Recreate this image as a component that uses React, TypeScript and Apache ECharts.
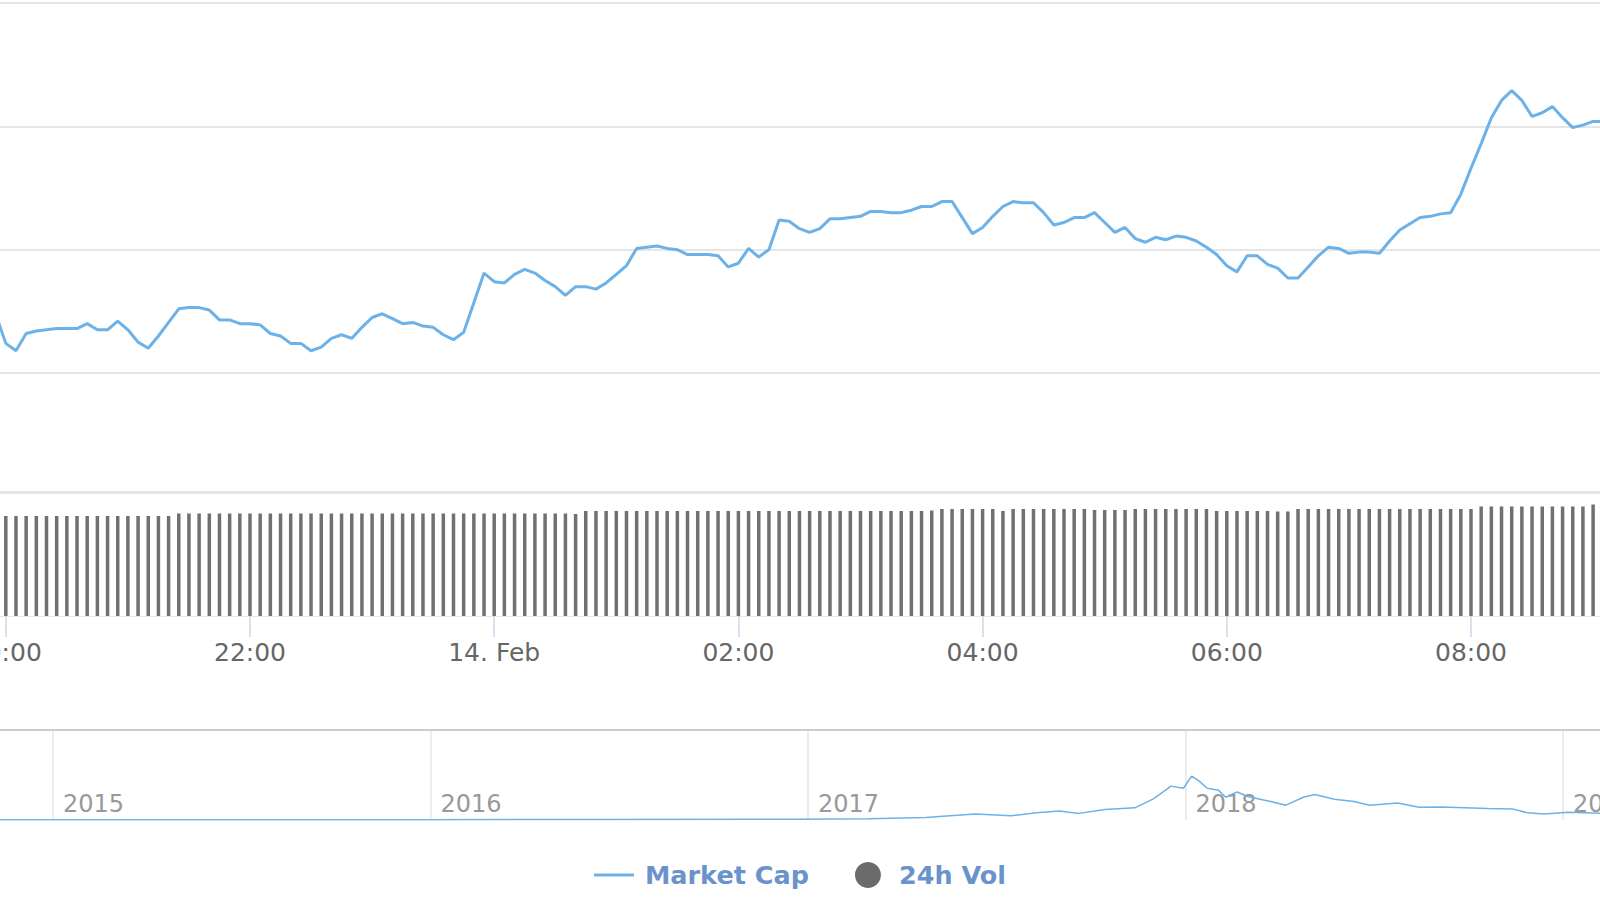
import React, { useEffect, useRef } from "react";
import * as echarts from "echarts";

// ---- Main chart data (5-minute samples starting 13 Feb 2019 19:55 UTC) ----
const START_UTC = Date.UTC(2019, 1, 13, 19, 55);
const STEP_MINUTES = 5;

// Market cap, billions USD
const MARKET_CAP_B = [
  118.48, 118.24, 118.18, 118.32, 118.34, 118.35, 118.36, 118.36, 118.36, 118.40,
  118.35, 118.35, 118.42, 118.35, 118.25, 118.20, 118.30, 118.41, 118.52, 118.53,
  118.53, 118.51, 118.43, 118.43, 118.40, 118.40, 118.39, 118.32, 118.30, 118.24,
  118.24, 118.18, 118.21, 118.28, 118.31, 118.28, 118.37, 118.45, 118.48, 118.44,
  118.40, 118.41, 118.38, 118.37, 118.31, 118.27, 118.33, 118.57, 118.81, 118.74,
  118.73, 118.80, 118.84, 118.81, 118.75, 118.70, 118.63, 118.70, 118.70, 118.68,
  118.73, 118.80, 118.87, 119.01, 119.02, 119.03, 119.01, 119.00, 118.96, 118.96,
  118.96, 118.95, 118.86, 118.89, 119.01, 118.94, 119.00, 119.24, 119.23, 119.17,
  119.14, 119.17, 119.25, 119.25, 119.26, 119.27, 119.31, 119.31, 119.30, 119.30,
  119.32, 119.35, 119.35, 119.39, 119.39, 119.26, 119.13, 119.18, 119.27, 119.35,
  119.39, 119.38, 119.38, 119.30, 119.20, 119.22, 119.26, 119.26, 119.30, 119.22,
  119.14, 119.18, 119.09, 119.06, 119.10, 119.08, 119.11, 119.10, 119.07, 119.02,
  118.96, 118.87, 118.82, 118.95, 118.95, 118.88, 118.85, 118.77, 118.77, 118.86,
  118.95, 119.02, 119.01, 118.97, 118.98, 118.98, 118.97, 119.07, 119.16, 119.21,
  119.26, 119.27, 119.29, 119.30, 119.45, 119.66, 119.86, 120.07, 120.21, 120.29,
  120.21, 120.08, 120.11, 120.16, 120.07, 119.99, 120.01, 120.04, 120.04,
];

// 24h volume, billions USD
const VOLUME_24H_B = [
  20.16, 20.16, 20.16, 20.16, 20.16, 20.16, 20.16, 20.16, 20.16, 20.16,
  20.16, 20.16, 20.16, 20.16, 20.16, 20.16, 20.16, 20.16, 20.67, 20.67,
  20.67, 20.67, 20.67, 20.67, 20.67, 20.67, 20.67, 20.67, 20.67, 20.67,
  20.67, 20.67, 20.67, 20.67, 20.67, 20.67, 20.67, 20.67, 20.67, 20.67,
  20.67, 20.67, 20.67, 20.67, 20.67, 20.67, 20.67, 20.67, 20.67, 20.67,
  20.67, 20.67, 20.67, 20.67, 20.67, 20.67, 20.67, 20.56, 21.17, 21.17,
  21.17, 21.17, 21.17, 21.17, 21.17, 21.17, 21.17, 21.17, 21.17, 21.17,
  21.17, 21.17, 21.17, 21.17, 21.17, 21.17, 21.17, 21.17, 21.17, 21.17,
  21.17, 21.17, 21.17, 21.17, 21.17, 21.17, 21.17, 21.17, 21.17, 21.17,
  21.17, 21.17, 21.27, 21.57, 21.57, 21.57, 21.57, 21.57, 21.57, 21.17,
  21.57, 21.57, 21.57, 21.57, 21.57, 21.57, 21.57, 21.57, 21.37, 21.37,
  21.37, 21.37, 21.57, 21.57, 21.57, 21.57, 21.57, 21.57, 21.57, 21.57,
  21.17, 21.17, 21.17, 21.17, 21.17, 21.17, 21.07, 21.07, 21.57, 21.57,
  21.57, 21.57, 21.57, 21.57, 21.57, 21.57, 21.57, 21.57, 21.57, 21.57,
  21.57, 21.57, 21.57, 21.57, 21.57, 21.57, 22.08, 22.08, 22.08, 22.08,
  22.08, 22.08, 22.08, 22.08, 22.08, 22.08, 22.08, 22.48, 22.48,
];

// ---- Navigator (all-time market cap, billions USD) ----
const NAV_DATES = [
  "2014-11-01", "2015-01-01", "2015-04-01", "2015-08-01", "2016-01-01", "2016-06-15",
  "2016-12-20", "2017-03-01", "2017-04-25", "2017-05-15", "2017-06-12", "2017-07-16",
  "2017-08-10", "2017-09-01", "2017-09-20", "2017-10-15", "2017-11-13", "2017-12-01",
  "2017-12-18", "2017-12-30", "2018-01-07", "2018-01-14", "2018-01-22", "2018-02-02",
  "2018-02-09", "2018-02-20", "2018-03-03", "2018-03-22", "2018-04-08", "2018-04-25",
  "2018-05-06", "2018-05-25", "2018-06-13", "2018-06-28", "2018-07-25", "2018-08-15",
  "2018-09-05", "2018-09-28", "2018-10-20", "2018-11-13", "2018-11-28", "2018-12-14",
  "2019-01-06", "2019-02-14",
];
const NAV_CAP_B = [
  6, 5, 4, 4, 7, 10, 14, 22, 45, 76, 115, 80, 135, 170, 125, 200, 230, 400, 640, 600,
  830, 740, 600, 560, 430, 530, 440, 360, 280, 430, 480, 390, 350, 280, 320, 240, 245,
  230, 215, 210, 135, 115, 145, 125,
];

const MONTHS = ["Jan", "Feb", "Mar", "Apr", "May", "Jun", "Jul", "Aug", "Sep", "Oct", "Nov", "Dec"];
const LEGEND_NAMES = ["Market Cap", "24h Vol"];

// axis extents
const X_MIN = Date.UTC(2019, 1, 13, 18);
const X_MAX = Date.UTC(2019, 1, 14, 10);
const TWO_HOURS = 2 * 3600 * 1000;

const LINE_COLOR = "#6cb2e8";
const BAR_COLOR = "#707070";
const FONT = "DejaVu Sans";

function toDecimalYear(s: string): number {
  const [y, m, d] = s.split("-").map(Number);
  const t = Date.UTC(y, m - 1, d);
  const a = Date.UTC(y, 0, 1);
  const b = Date.UTC(y + 1, 0, 1);
  return y + (t - a) / (b - a);
}

function fmtTime(v: number): string {
  const d = new Date(v);
  const h = d.getUTCHours();
  if (h === 0 && d.getUTCMinutes() === 0) {
    return `${d.getUTCDate()}. ${MONTHS[d.getUTCMonth()]}`;
  }
  return `${String(h).padStart(2, "0")}:${String(d.getUTCMinutes()).padStart(2, "0")}`;
}

export default function App() {
  const ref = useRef<HTMLDivElement>(null);

  useEffect(() => {
    const el = ref.current;
    if (!el) return;
    const chart = echarts.init(el, null, { renderer: "svg" });

    const times = MARKET_CAP_B.map((_, i) => START_UTC + i * STEP_MINUTES * 60000);
    const capData = MARKET_CAP_B.map((v, i) => [times[i], v]);
    const volData = VOLUME_24H_B.map((v, i) => [times[i], v]);
    const navData = NAV_DATES.map((d, i) => [toDecimalYear(d), NAV_CAP_B[i]]);

    const mainLeft = -238.4;
    const mainWidth = 1953.6;

    const option: any = {
      animation: false,
      backgroundColor: "#ffffff",
      textStyle: { fontFamily: FONT },
      legend: {
        show: true,
        data: [
          { name: LEGEND_NAMES[0], icon: "path://M0,0H40V3H0Z", itemStyle: { color: LINE_COLOR } },
          { name: LEGEND_NAMES[1], icon: "circle", itemStyle: { color: "#6b6b6b" } },
        ],
        left: "center",
        top: 857,
        itemWidth: 40,
        itemHeight: 26,
        itemGap: 46,
        symbolKeepAspect: true,
        textStyle: {
          fontFamily: FONT,
          fontSize: 25.5,
          fontWeight: "bold",
          color: "#6a93cb",
          padding: [0, 0, 0, 6],
        },
      },
      grid: [
        { left: mainLeft, width: mainWidth, top: 3, height: 493.3, outerBoundsMode: "none", containLabel: false },
        { left: mainLeft, width: mainWidth, top: 492, height: 124, outerBoundsMode: "none", containLabel: false },
        { left: -324.5, width: 2265, top: 730, height: 90, outerBoundsMode: "none", containLabel: false },
      ],
      xAxis: [
        {
          gridIndex: 0,
          type: "value",
          min: X_MIN,
          max: X_MAX,
          interval: TWO_HOURS,
          show: false,
        },
        {
          gridIndex: 1,
          type: "value",
          position: "bottom",
          min: X_MIN,
          max: X_MAX,
          interval: TWO_HOURS,
          axisLine: { show: true, lineStyle: { color: "#e3e8f0", width: 1 } },
          axisTick: { show: true, length: 21, lineStyle: { color: "#ccd6eb", width: 1.5 } },
          axisLabel: {
            show: true,
            margin: 24,
            fontSize: 25,
            fontFamily: FONT,
            color: "#666666",
            formatter: (v: number) => fmtTime(v),
          },
          splitLine: { show: false },
        },
        {
          gridIndex: 1,
          type: "value",
          position: "top",
          min: X_MIN,
          max: X_MAX,
          interval: TWO_HOURS,
          axisLine: { show: true, onZero: false, lineStyle: { color: "#e6e6e6", width: 3 } },
          axisTick: { show: false },
          axisLabel: { show: false },
          splitLine: { show: false },
        },
        {
          gridIndex: 2,
          type: "value",
          position: "bottom",
          min: 2014,
          max: 2020,
          interval: 1,
          axisLine: { show: false },
          axisTick: { show: false },
          axisLabel: {
            show: true,
            inside: true,
            align: "left",
            margin: 4,
            padding: [0, 0, 0, 10],
            fontSize: 24,
            fontFamily: FONT,
            color: "#999999",
            formatter: (v: number) => String(v),
          },
          splitLine: { show: true, lineStyle: { color: "#e6e6e6", width: 1.5 } },
        },
        {
          gridIndex: 2,
          type: "value",
          position: "top",
          min: 2014,
          max: 2020,
          interval: 1,
          axisLine: { show: true, onZero: false, lineStyle: { color: "#cccccc", width: 2 } },
          axisTick: { show: false },
          axisLabel: { show: false },
          splitLine: { show: false },
        },
      ],
      yAxis: [
        {
          gridIndex: 0,
          type: "value",
          min: 117,
          max: 121,
          interval: 1,
          axisLine: { show: false },
          axisTick: { show: false },
          axisLabel: { show: false },
          splitLine: { show: true, showMinLine: false, lineStyle: { color: "#e6e6e6", width: 2 } },
        },
        {
          gridIndex: 1,
          type: "value",
          min: 0,
          max: 25,
          show: false,
        },
        {
          gridIndex: 2,
          type: "value",
          min: 0,
          max: 1700,
          show: false,
        },
      ],
      series: [
        {
          name: LEGEND_NAMES[0],
          type: "line",
          xAxisIndex: 0,
          yAxisIndex: 0,
          data: capData,
          symbol: "none",
          showSymbol: false,
          lineStyle: { color: LINE_COLOR, width: 3 },
          itemStyle: { color: LINE_COLOR },
        },
        {
          name: LEGEND_NAMES[1],
          type: "bar",
          xAxisIndex: 1,
          yAxisIndex: 1,
          data: volData,
          barWidth: 3.5,
          itemStyle: { color: BAR_COLOR },
        },
        {
          name: "Navigator",
          type: "line",
          xAxisIndex: 3,
          yAxisIndex: 2,
          data: navData,
          symbol: "none",
          showSymbol: false,
          lineStyle: { color: LINE_COLOR, width: 1.5 },
          itemStyle: { color: LINE_COLOR },
        },
      ],
    };

    chart.setOption(option);
    return () => chart.dispose();
  }, []);

  return (
    <div
      ref={ref}
      style={{ position: "fixed", left: 0, top: 0, width: 1600, height: 900, background: "#ffffff" }}
    />
  );
}
